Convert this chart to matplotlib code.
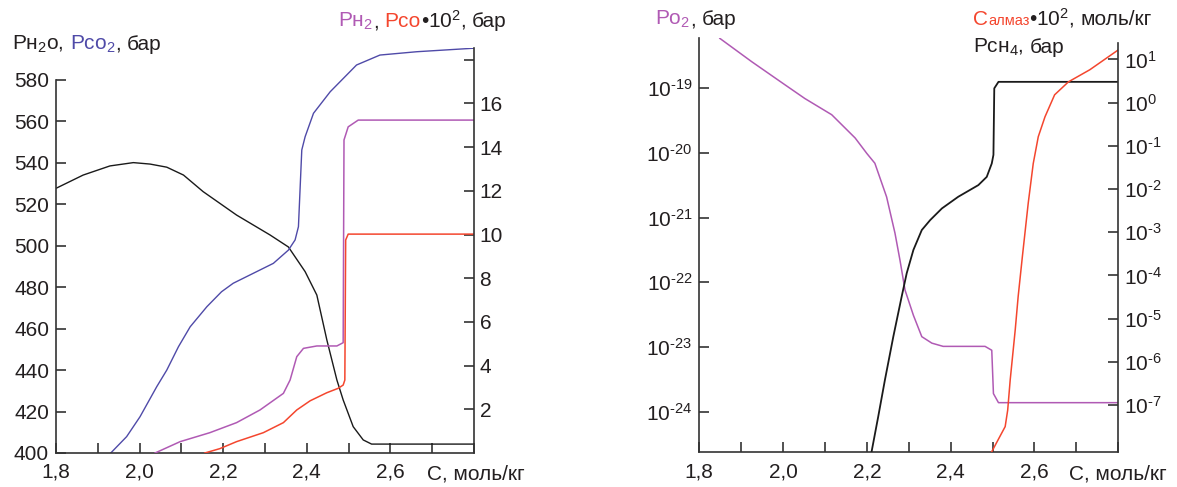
import numpy as np
import matplotlib
matplotlib.use("Agg")
import matplotlib.pyplot as plt
from matplotlib.ticker import NullLocator

plt.rcParams['font.family'] = ['Liberation Sans', 'DejaVu Sans']
plt.rcParams['mathtext.fontset'] = 'custom'
plt.rcParams['mathtext.rm'] = 'Liberation Sans'
plt.rcParams['mathtext.it'] = 'Liberation Sans:italic'
plt.rcParams['mathtext.bf'] = 'Liberation Sans:bold'

# left panel: P(H2O), P(CO2) on left axis; P(H2), P(CO)*1e2 on right axis
c_h2o = [1.800, 1.865, 1.929, 1.985, 2.025, 2.065, 2.105, 2.152, 2.232, 2.312, 2.356,
         2.396, 2.424, 2.448, 2.472, 2.487, 2.511, 2.535, 2.555, 2.800]
p_h2o = [527.7, 534.1, 538.5, 540.1, 539.4, 537.9, 534.1, 526.1, 514.8, 505.2, 499.4,
         487.5, 476.2, 454.5, 435.2, 425.6, 412.7, 406.3, 404.3, 404.3]

c_co2 = [1.931, 1.969, 2.001, 2.041, 2.065, 2.093, 2.121, 2.161, 2.196, 2.224, 2.280, 2.320,
         2.356, 2.372, 2.380, 2.388, 2.396, 2.416, 2.456, 2.519, 2.575, 2.663, 2.800]
p_co2 = [400.0, 407.9, 417.5, 432.0, 440.0, 451.3, 460.9, 470.6, 477.8, 481.9, 487.5, 491.5,
         497.9, 502.8, 509.2, 546.2, 552.6, 563.9, 574.3, 587.2, 592.0, 593.6, 595.3]

c_h2 = [2.037, 2.097, 2.168, 2.232, 2.288, 2.344, 2.360, 2.376, 2.392, 2.424, 2.472,
        2.487, 2.489, 2.499, 2.523, 2.800]
p_h2 = [0.0, 0.52, 0.93, 1.39, 1.97, 2.73, 3.34, 4.41, 4.79, 4.90, 4.90,
        5.05, 14.33, 14.93, 15.24, 15.24]

c_co = [2.156, 2.192, 2.232, 2.296, 2.344, 2.376, 2.408, 2.448, 2.475, 2.487, 2.491,
        2.493, 2.499, 2.800]
p_co = [0.0, 0.2, 0.52, 0.93, 1.39, 1.97, 2.39, 2.76, 2.96, 3.11, 3.34,
        9.75, 10.02, 10.02]

# right panel (log10 values): P(O2) left axis; P(CH4), C(diamond)*1e2 right axis
c_o2 = [1.849, 1.925, 2.005, 2.052, 2.116, 2.172, 2.200, 2.219, 2.247, 2.267, 2.279,
        2.291, 2.311, 2.331, 2.355, 2.382, 2.482, 2.498, 2.502, 2.514, 2.800]
lg_o2 = [-18.23, -18.59, -18.95, -19.16, -19.41, -19.77, -20.01, -20.16, -20.68, -21.24, -21.66,
         -22.12, -22.51, -22.84, -22.94, -22.99, -22.99, -23.05, -23.72, -23.86, -23.86]

c_ch4 = [2.211, 2.227, 2.243, 2.263, 2.283, 2.295, 2.311, 2.331, 2.351, 2.379, 2.418,
         2.466, 2.486, 2.498, 2.502, 2.504, 2.514, 2.800]
lg_ch4 = [-8.09, -7.27, -6.42, -5.42, -4.49, -3.95, -3.41, -2.95, -2.72, -2.45, -2.18,
          -1.91, -1.72, -1.41, -1.21, 0.33, 0.48, 0.48]

c_diam = [2.498, 2.530, 2.536, 2.542, 2.554, 2.561, 2.571, 2.585, 2.597, 2.609, 2.625,
          2.648, 2.681, 2.732, 2.800]
lg_diam = [-8.08, -7.50, -7.12, -6.42, -5.26, -4.49, -3.57, -2.33, -1.41, -0.79, -0.33,
           0.18, 0.48, 0.76, 1.22]

xticks = np.arange(1.8, 2.81, 0.1)
xlabels = ["1,8", "", "2,0", "", "2,2", "", "2,4", "", "2,6", "", ""]

W, H = 1177, 487
TXT = '#231f20'
AX = '#333333'
BLUE = '#4f4aa8'
MAG = '#b05ab4'
RED = '#f4462e'
FS = 15

fig = plt.figure(figsize=(W / 100, H / 100), dpi=100)


def box(l, b, r, t):
    return [l / W, 1 - b / H, (r - l) / W, (b - t) / H]


def style(ax):
    for s in ax.spines.values():
        s.set_linewidth(1.2)
        s.set_color(AX)
    ax.spines['top'].set_visible(False)
    ax.tick_params(direction='in', length=7, width=1.2, color=AX,
                   labelcolor=TXT, labelsize=FS)


def pow_label(e):
    if e < 0:
        return r"$\mathregular{10^{\text{-}%d}}$" % (-e)
    return r"$\mathregular{10^{%d}}$" % e


ax1 = fig.add_axes(box(56, 453, 474, 48))
ax1r = ax1.twinx()
for a in (ax1, ax1r):
    style(a)
ax1.spines['right'].set_visible(False)
ax1r.spines['left'].set_visible(False)
ax1r.spines['bottom'].set_visible(False)

ax1.plot(c_h2o, p_h2o, color='#1a1a1a', lw=1.0)
ax1.plot(c_co2, p_co2, color=BLUE, lw=1.0)
ax1r.plot(c_h2, p_h2, color=MAG, lw=1.1)
ax1r.plot(c_co, p_co, color=RED, lw=1.1)

ax1.set_xlim(1.8, 2.8)
ax1.set_xticks(xticks)
ax1.set_xticklabels(xlabels)
ax1.tick_params(axis='x', pad=7)
ax1.set_ylim(400, 595.4)
ax1.set_yticks(np.arange(400, 581, 20))
ax1.spines['left'].set_bounds(400, 580)
ax1.tick_params(axis='y', pad=5)
ax1r.set_ylim(0, 18.54)
ax1r.set_yticks(np.arange(2, 19, 2))
ax1r.set_yticklabels([str(v) for v in range(2, 17, 2)] + [""])
ax1r.tick_params(axis='y', pad=4)

ax2 = fig.add_axes(box(699.3, 452.3, 1118.3, 38.3))
ax2r = ax2.twinx()
for a in (ax2, ax2r):
    style(a)
ax2.spines['right'].set_visible(False)
ax2r.spines['left'].set_visible(False)
ax2r.spines['bottom'].set_visible(False)

ax2.plot(c_o2, 10.0 ** np.array(lg_o2), color=MAG, lw=1.1)
ax2r.plot(c_ch4, 10.0 ** np.array(lg_ch4), color='#1a1a1a', lw=1.3)
ax2r.plot(c_diam, 10.0 ** np.array(lg_diam), color=RED, lw=1.1)

ax2.set_xlim(1.8, 2.8)
ax2.set_xticks(xticks)
ax2.set_xticklabels(xlabels)
ax2.tick_params(axis='x', pad=7)
ax2.set_yscale('log')
ax2.set_ylim(10 ** -24.627, 10 ** -18.229)
ax2.set_yticks([10.0 ** e for e in range(-24, -18)])
ax2.set_yticklabels([pow_label(e) for e in range(-24, -18)])
ax2.yaxis.set_minor_locator(NullLocator())
ax2.tick_params(axis='y', pad=5)
ax2r.set_yscale('log')
ax2r.set_ylim(10 ** -8.095, 10 ** 1.488)
ax2r.set_yticks([10.0 ** e for e in range(-7, 2)])
ax2r.set_yticklabels([pow_label(e) for e in range(-7, 2)])
ax2r.yaxis.set_minor_locator(NullLocator())
ax2r.spines['right'].set_bounds(10 ** -8.095, 10 ** 1.387)
ax2r.tick_params(axis='y', pad=4)

renderer = fig.canvas.get_renderer()
SP = 5.8


def rich(x, y, parts):
    for s, col, size, gap in parts:
        t = fig.text(x / W, 1 - y / H, s, color=col, fontsize=size, va='baseline', ha='left')
        x = t.get_window_extent(renderer).x1 + gap


rich(12, 50, [("Рн$_2$о,", TXT, FS, SP), ("Рсо$_2$", BLUE, FS, 0),
              (",", TXT, FS, SP), ("бар", TXT, FS, 0)])
rich(338, 27, [("Рн$_2$", MAG, FS, 0), (",", TXT, FS, SP), ("Рсо", RED, FS, 0),
               ("•10$^2$,", TXT, FS, SP), ("бар", TXT, FS, 0)])
rich(655, 25, [("Ро$_2$", MAG, FS, 0), (",", TXT, FS, SP), ("бар", TXT, FS, 0)])
rich(973, 25, [("С", RED, FS, 0), ("алмаз", RED, 10.5, 0),
               ("•10$^2$,", TXT, FS, SP), ("моль/кг", TXT, FS, 0)])
rich(973, 53, [("Рсн$_4$,", TXT, FS, SP), ("бар", TXT, FS, 0)])

fig.text(427 / W, 1 - 480 / H, "С, моль/кг", color=TXT, fontsize=FS, va='baseline')
fig.text(1069 / W, 1 - 480 / H, "С, моль/кг", color=TXT, fontsize=FS, va='baseline')

fig.savefig("out.png", dpi=100)
